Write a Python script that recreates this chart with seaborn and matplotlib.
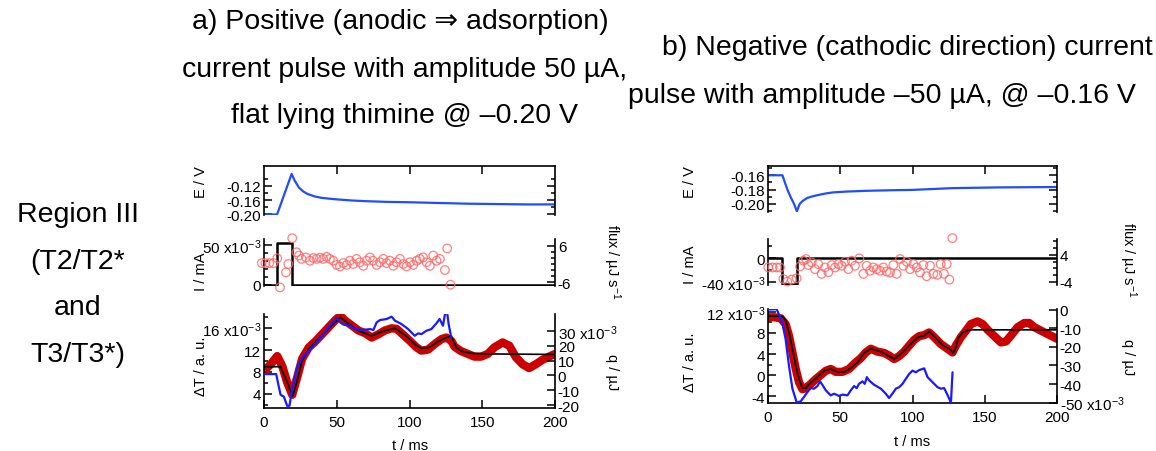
import matplotlib
matplotlib.use("Agg")
import matplotlib.pyplot as plt
import seaborn as sns
from matplotlib.ticker import FixedLocator

# ---------------- data ----------------
# Panel a : positive current pulse
a_E_t = [0, 5, 9, 12, 15, 19, 21, 24, 27, 30, 35, 40, 50, 60, 70, 85, 100, 120, 140, 160, 180, 200]
a_E_v = [-0.200, -0.200, -0.200, -0.166, -0.132, -0.087, -0.105, -0.125, -0.136, -0.143, -0.150,
         -0.154, -0.158, -0.161, -0.163, -0.165, -0.166, -0.168, -0.170, -0.171, -0.172, -0.172]
a_I_t = [0, 9, 9, 19, 19, 200]
a_I_v = [0, 0, 52, 52, 0, 0]                      # x10^-3 mA
a_flux_t = [-1.5, 1.0, 3.6, 6.4, 9.1, 11.0, 15.1, 16.7, 19.4, 22.4, 24.0, 25.8, 28.8, 31.6, 33.9,
            36.2, 38.4, 40.7, 43.0, 45.3, 47.6, 49.9, 52.2, 54.5, 56.8, 59.0, 61.3, 63.6, 65.9,
            68.2, 70.5, 72.8, 75.0, 77.4, 79.7, 82.0, 84.2, 86.5, 88.8, 91.1, 93.4, 95.7, 98.0,
            100.3, 102.6, 104.9, 107.1, 109.4, 111.7, 114.0, 116.3, 118.6, 120.9, 124.3, 125.9, 128.2]
a_flux_v = [0.3, 0.3, 0.3, 0.3, 1.9, -7.8, -2.8, 0.0, 8.6, 3.9, 2.8, 1.7, 2.2, 1.1, 2.0, 1.7, 2.1,
            1.7, 2.4, 1.7, 1.1, -0.3, -0.8, 0.3, -0.3, 1.1, 0.0, 1.7, 0.6, -0.6, 1.1, 2.2, 1.1,
            -0.3, 0.6, 1.7, 0.3, 1.1, -0.6, 0.6, 1.7, 0.0, -0.8, 0.6, -0.3, 1.1, 1.7, 2.2, 0.6,
            -0.6, 2.8, 1.1, 1.7, -2.0, 5.2, -6.9]
a_dT_t = [0, 4.6, 9.1, 12.5, 15.9, 19.4, 22.8, 26.2, 30.8, 35.3, 39.9, 44.4, 49.0, 52.4, 55.8,
          60.4, 64.9, 69.5, 74.0, 78.6, 83.1, 87.7, 91.1, 95.7, 100.2, 104.8, 108.2, 112.8, 117.3,
          121.9, 125.3, 128.7, 131.0, 135.5, 140.1, 144.6, 149.2, 153.8, 158.3, 164.0, 168.6,
          173.1, 177.7, 182.2, 186.8, 191.3, 195.9, 200]
a_dT_v = [8.2, 9.4, 10.9, 9.1, 6.1, 3.8, 7.0, 10.4, 12.5, 13.6, 14.9, 16.2, 17.5, 18.3, 17.4,
          16.5, 15.6, 15.1, 14.3, 14.9, 15.6, 16.0, 15.9, 14.8, 13.7, 12.5, 11.9, 12.1, 13.1,
          14.0, 14.3, 13.7, 12.6, 11.8, 11.3, 10.8, 10.8, 11.3, 12.5, 13.4, 12.8, 10.7, 9.4,
          8.7, 9.4, 10.2, 10.8, 11.3]                 # x10^-3 a.u.
a_fit_t = [0, 11.4, 12.5, 15.9, 19.8, 22.8, 26.2, 30.8, 39.9, 49.0, 52.4, 56.9, 62.6, 67.2, 74.0,
           80.9, 90.0, 96.8, 103.6, 108.2, 113.9, 119.6, 125.3, 128.7, 132.1, 135.5, 142.4, 153.8, 200]
a_fit_v = [8.95, 8.95, 8.2, 6.1, 3.6, 6.4, 10.1, 12.2, 14.8, 17.1, 18.0, 17.1, 15.9, 15.3, 14.6,
           15.4, 16.0, 14.8, 13.1, 12.3, 12.5, 13.6, 14.3, 14.6, 12.5, 11.8, 11.4, 11.3, 11.2]
a_q_t = [0, 8.4, 9.8, 11.4, 13.7, 15.9, 17.5, 19.4, 22.8, 25.1, 28.5, 33.0, 39.9, 44.4, 50.1, 52.4,
         54.7, 59.2, 62.6, 67.2, 72.9, 75.2, 77.4, 79.7, 84.3, 87.7, 90.0, 94.5, 99.1, 103.6, 105.9,
         108.2, 111.6, 115.0, 118.5, 120.7, 123.0, 124.6, 125.7, 126.9, 128.7]
a_q_v = [0.9, 0.9, -5.9, -13.1, -14.4, -20.5, -20.5, -9.2, 5.4, 9.9, 14.4, 18.9, 26.8, 32.5, 38.8,
         35.8, 34.3, 33.6, 31.3, 30.7, 31.3, 30.7, 35.8, 37.4, 38.1, 39.7, 37.0, 34.7, 31.3, 26.8,
         28.4, 27.9, 30.2, 31.3, 35.2, 38.1, 33.6, 42.6, 43.7, 34.7, 25.7]   # x10^-3 uJ

# Panel b : negative current pulse
b_E_t = [0, 10, 12, 14, 16, 18, 20, 21, 22, 24, 27, 30, 34, 40, 45, 55, 68, 85, 100, 128, 160, 200]
b_E_v = [-0.160, -0.160, -0.172, -0.183, -0.192, -0.200, -0.2105, -0.205, -0.200, -0.196, -0.192,
         -0.190, -0.188, -0.1855, -0.184, -0.1828, -0.1818, -0.181, -0.1805, -0.178, -0.177, -0.1765]
b_I_t = [0, 10, 10, 20, 20, 200]
b_I_v = [0, 0, -43, -43, 0, 0]                    # x10^-3 mA
b_flux_t = [0.2, 3.2, 6.0, 8.3, 10.6, 13.4, 16.4, 19.8, 22.2, 24.5, 26.3, 27.9, 30.2, 32.5, 34.8,
            37.1, 39.4, 41.8, 44.1, 46.4, 48.7, 51.0, 53.3, 55.6, 57.9, 60.2, 63.2, 66.0, 68.3,
            70.6, 72.9, 75.2, 77.5, 79.8, 82.1, 84.4, 86.7, 89.0, 91.4, 93.7, 96.0, 98.3, 100.6,
            102.9, 105.2, 107.5, 109.8, 112.1, 114.4, 117.2, 119.5, 121.8, 123.7, 125.5, 127.6]
b_flux_v = [0.3, 0.3, 0.3, 0.3, -3.1, -3.9, -3.3, -2.9, 0.6, 2.3, 2.8, 1.0, 1.8, -0.2, 1.3, -1.6,
            0.3, -1.1, 1.0, 0.3, 1.3, 0.8, 2.0, -0.2, 2.3, 0.8, 3.0, -1.6, 0.8, -0.7, 0.3, -0.2,
            -0.7, 0.3, -0.9, -1.2, 1.0, -1.6, 2.8, 0.8, 2.0, -0.2, 1.3, 0.3, -1.2, 1.0, -2.3, 0.8,
            -1.6, -1.9, 1.3, -1.6, 1.3, -3.3, 9.0]
b_dT_t = [0, 4.2, 8.8, 12.2, 14.5, 16.9, 19.2, 21.5, 23.8, 26.1, 29.6, 33.0, 36.5, 40.0, 43.4,
          46.9, 51.5, 56.1, 60.7, 64.2, 67.7, 71.1, 75.8, 80.4, 83.8, 87.3, 90.8, 94.2, 97.7,
          101.2, 104.6, 108.1, 111.5, 115.0, 119.6, 124.2, 127.7, 130.0, 133.5, 137.0, 140.4,
          145.0, 148.5, 152.0, 156.6, 161.2, 164.7, 168.1, 172.7, 177.4, 180.8, 184.3, 188.9, 193.5, 200]
b_dT_v = [11.0, 11.0, 10.8, 9.7, 7.5, 4.3, 1.15, -1.4, -2.7, -2.5, -1.7, -0.8, 0.0, 0.8, 1.15,
          0.6, 0.6, 1.15, 2.4, 3.2, 4.3, 5.0, 4.45, 4.2, 3.7, 3.05, 3.6, 4.45, 5.6, 6.7, 7.4,
          7.6, 8.1, 7.2, 5.9, 5.0, 4.3, 5.6, 7.2, 8.45, 9.7, 10.2, 9.7, 8.6, 7.4, 6.2, 6.4, 7.5,
          9.1, 9.9, 9.9, 9.1, 8.45, 7.8, 6.9]
b_fit_t = [0, 9.9, 12.2, 14.5, 16.9, 19.2, 21.5, 23.8, 26.1, 29.6, 34.2, 38.8, 43.4, 48.0, 52.7,
           57.3, 61.9, 66.5, 71.1, 78.1, 85.0, 87.3, 91.9, 97.7, 103.5, 108.1, 111.5, 116.2, 120.8,
           125.4, 128.4, 130.0, 131.6, 134.6, 139.3, 147.3, 200]
b_fit_v = [11.2, 11.2, 10.4, 8.1, 5.0, 1.8, -0.8, -2.5, -2.5, -1.4, -0.4, 0.8, 1.15, 0.6, 0.6, 1.3,
           2.4, 4.2, 5.0, 4.45, 3.4, 3.05, 4.0, 5.6, 7.2, 7.5, 8.3, 7.0, 5.7, 5.0, 4.2, 5.3, 7.0,
           8.1, 8.6, 8.6, 8.6]
b_q_t = [0, 6.0, 7.6, 9.9, 12.2, 14.5, 16.9, 19.9, 22.6, 24.9, 27.3, 29.6, 31.9, 34.2, 36.0, 37.6,
         40.0, 43.4, 45.7, 49.2, 51.5, 55.0, 57.3, 59.6, 61.4, 63.0, 65.4, 67.0, 68.4, 70.0, 73.4,
         78.1, 81.5, 83.8, 86.1, 88.5, 90.8, 93.1, 95.4, 97.7, 100.0, 102.3, 104.6, 108.1, 110.4,
         112.7, 115.0, 117.3, 119.6, 121.9, 123.8, 125.4, 126.6, 127.7]
b_q_v = [0.0, 0.2, -2.7, -7.1, -16.0, -30.1, -42.5, -50.0, -49.3, -47.0, -44.3, -42.2, -42.5, -41.1,
         -38.6, -40.4, -43.4, -46.1, -45.2, -46.4, -45.7, -46.1, -43.4, -41.1, -42.2, -39.9, -38.6,
         -39.9, -36.3, -38.1, -40.4, -42.5, -45.2, -47.5, -45.2, -42.5, -41.7, -39.9, -37.2, -34.6,
         -32.8, -33.7, -32.5, -31.6, -36.3, -38.1, -39.9, -41.7, -42.5, -42.2, -45.2, -47.9, -50.0, -33.7]

title_a = ["a) Positive (anodic \u21d2 adsorption)", "current pulse with amplitude 50 \u00b5A,",
           "flat lying thimine @ \u20130.20 V"]
title_b = ["b) Negative (cathodic direction) current", "pulse with amplitude \u201350 \u00b5A, @ \u20130.16 V"]
row_label = ["Region III", "(T2/T2*", "and", "T3/T3*)"]
x_ticks = [0, 50, 100, 150, 200]

# ---------------- style ----------------
sns.set_theme(style="ticks")
plt.rcParams["font.family"] = ["Liberation Sans", "DejaVu Sans"]
plt.rcParams["mathtext.fontset"] = "custom"
plt.rcParams["mathtext.rm"] = "Liberation Sans"
plt.rcParams["mathtext.it"] = "Liberation Sans:italic"
plt.rcParams["mathtext.bf"] = "Liberation Sans:bold"
for k in ["text.color", "axes.labelcolor", "xtick.color", "ytick.color", "axes.edgecolor"]:
    plt.rcParams[k] = "black"

C_E = "#1f4dff"
C_Q = "#1a1aff"
C_RED = "#cc0000"
C_FLUX = "#ff6a6a"
TICK_FS = 11
LAB_FS = 10.5
TITLE_FS = 20.5

W, H = 1156, 452
fig = plt.figure(figsize=(W / 100, H / 100), dpi=100)


def add_ax(x0, x1, y0, y1):
    return fig.add_axes([x0 / W, 1 - y1 / H, (x1 - x0) / W, (y1 - y0) / H])


def style(ax, spines_on):
    ax.set_facecolor("none")
    for s in ["top", "bottom", "left", "right"]:
        ax.spines[s].set_visible(s in spines_on)
        ax.spines[s].set_linewidth(1.2)
        ax.spines[s].set_color("black")
    ax.tick_params(which="both", direction="in", width=1.1, colors="black",
                   labelsize=TICK_FS, pad=2)
    ax.tick_params(which="major", length=6)
    ax.tick_params(which="minor", length=3)
    ax.set_xlabel("")
    ax.set_ylabel("")
    ax.set_xlim(0, 200)


def line(ax, t, v, color, lw, z=2):
    sns.lineplot(x=t, y=v, ax=ax, color=color, linewidth=lw, estimator=None, sort=False,
                 legend=False, zorder=z)


def build_panel(x0, x1, ys, E, I, flux, dT, fit, q, lims, ticks):
    (yE0, yE1), (yI0, yI1), (yT0, yT1) = ys
    # --- E panel
    axE = add_ax(x0, x1, yE0, yE1)
    line(axE, E[0], E[1], C_E, 1.6)
    style(axE, ["top", "left", "right"])
    axE.set_ylim(*lims["E"])
    axE.xaxis.set_ticks_position("top")
    axE.set_xticks([50, 100, 150])
    axE.tick_params(axis="x", labeltop=False, labelbottom=False)
    axE.set_yticks(ticks["E"][0], labels=ticks["E"][1])
    axE.yaxis.set_minor_locator(FixedLocator(ticks["E"][2]))
    axE.tick_params(axis="y", which="both", left=True, right=True)

    # --- I panel with flux twin
    axI = add_ax(x0, x1, yI0, yI1)
    line(axI, I[0], I[1], "black", 1.8)
    style(axI, ["left"])
    axI.set_ylim(*lims["I"])
    axI.set_xticks([])
    axI.set_yticks(ticks["I"][0], labels=ticks["I"][1])
    axI.yaxis.set_minor_locator(FixedLocator(ticks["I"][2]))
    axF = axI.twinx()
    sns.scatterplot(x=flux[0], y=flux[1], ax=axF, marker="o", s=38, facecolor="none",
                    edgecolor=C_FLUX, linewidth=0.9, legend=False, clip_on=False, alpha=0.85)
    style(axF, ["right"])
    axF.set_ylim(*lims["F"])
    axF.set_xticks([])
    axF.set_yticks(ticks["F"][0], labels=ticks["F"][1])
    axF.yaxis.set_minor_locator(FixedLocator(ticks["F"][2]))

    # --- dT panel with q twin
    axT = add_ax(x0, x1, yT0, yT1)
    line(axT, dT[0], dT[1], C_RED, 6.0, z=2)
    line(axT, fit[0], fit[1], "black", 1.2, z=3)
    style(axT, ["left", "bottom"])
    axT.set_ylim(*lims["T"])
    axT.set_xticks(x_ticks, labels=[str(v) for v in x_ticks])
    axT.tick_params(axis="x", pad=5)
    axT.set_yticks(ticks["T"][0], labels=ticks["T"][1])
    axT.yaxis.set_minor_locator(FixedLocator(ticks["T"][2]))
    axQ = axT.twinx()
    line(axQ, q[0], q[1], C_Q, 1.6, z=4)
    style(axQ, ["right"])
    axQ.set_ylim(*lims["Q"])
    axQ.tick_params(axis="x", bottom=False, labelbottom=False)
    axQ.set_yticks(ticks["Q"][0], labels=ticks["Q"][1])
    return axE, axI, axF, axT, axQ


X3 = r"x10$^{-3}$"

build_panel(
    264, 555, [(167, 216), (240, 287), (315, 409)],
    (a_E_t, a_E_v), (a_I_t, a_I_v), (a_flux_t, a_flux_v), (a_dT_t, a_dT_v),
    (a_fit_t, a_fit_v), (a_q_t, a_q_v),
    {"E": (-0.2015, -0.065), "I": (-1.3, 57.5), "F": (-7.33, 8.33), "T": (1.38, 18.62),
     "Q": (-22.0, 41.5)},
    {"E": ([-0.20, -0.16, -0.12], ["-0.20", "-0.16", "-0.12"], [-0.18, -0.14, -0.10]),
     "I": ([0, 50], ["0", "50 " + X3], [10, 20, 30, 40]),
     "F": ([-6, 6], ["-6", "6"], [-4, -2, 0, 2, 4]),
     "T": ([4, 8, 12, 16], ["4", "8", "12", "16 " + X3], [2, 6, 10, 14, 18]),
     "Q": ([-20, -10, 0, 10, 20, 30], ["-20", "-10", "0", "10", "20", "30 " + X3])},
)

build_panel(
    768, 1057, [(167, 213), (240, 286), (310, 404)],
    (b_E_t, b_E_v), (b_I_t, b_I_v), (b_flux_t, b_flux_v), (b_dT_t, b_dT_v),
    (b_fit_t, b_fit_v), (b_q_t, b_q_v),
    {"E": (-0.2115, -0.147), "I": (-45.0, 31.7), "F": (-4.9, 8.74), "T": (-5.33, 12.57),
     "Q": (-50.2, 0.3)},
    {"E": ([-0.20, -0.18, -0.16], ["-0.20", "-0.18", "-0.16"], [-0.21, -0.19, -0.17, -0.15]),
     "I": ([-40, 0], ["-40 " + X3, "0"], [-20, 20]),
     "F": ([-4, 4], ["-4", "4"], [-2, 0, 2, 6, 8]),
     "T": ([-4, 0, 4, 8, 12], ["-4", "0", "4", "8", "12 " + X3], [-2, 2, 6, 10]),
     "Q": ([-50, -40, -30, -20, -10, 0], ["-50 " + X3, "-40", "-30", "-20", "-10", "0"])},
)


def ftext(x, y, s, **kw):
    fig.text(x / W, 1 - y / H, s, ha="center", va="center", **kw)


# axis labels
for x, yE, yI, yT in [(201, 182, 272, 366), (690, 182, 265, 362)]:
    ftext(x, yE, "E / V", rotation=90, fontsize=LAB_FS)
    ftext(x, yI, "I / mA", rotation=90, fontsize=LAB_FS)
    ftext(x, yT, "\u0394T / a. u.", rotation=90, fontsize=LAB_FS)
for x, yF, yQ in [(612, 262, 372), (1128, 260, 357)]:
    ftext(x, yF, r"flux / µJ s$^{-1}$", rotation=-90, fontsize=LAB_FS)
    ftext(x, yQ, "q / µJ", rotation=-90, fontsize=LAB_FS)
ftext(410, 446, "t / ms", fontsize=LAB_FS)
ftext(912, 442, "t / ms", fontsize=LAB_FS)

# titles
for (s, x, y) in zip(title_a, [400, 405, 404], [22, 70, 116]):
    ftext(x, y, s, fontsize=TITLE_FS)
for (s, x, y) in zip(title_b, [907, 882], [48, 96]):
    ftext(x, y, s, fontsize=TITLE_FS)
for (s, y) in zip(row_label, [215, 262, 308, 355]):
    ftext(78, y, s, fontsize=TITLE_FS)

fig.savefig("out.png", dpi=100)
